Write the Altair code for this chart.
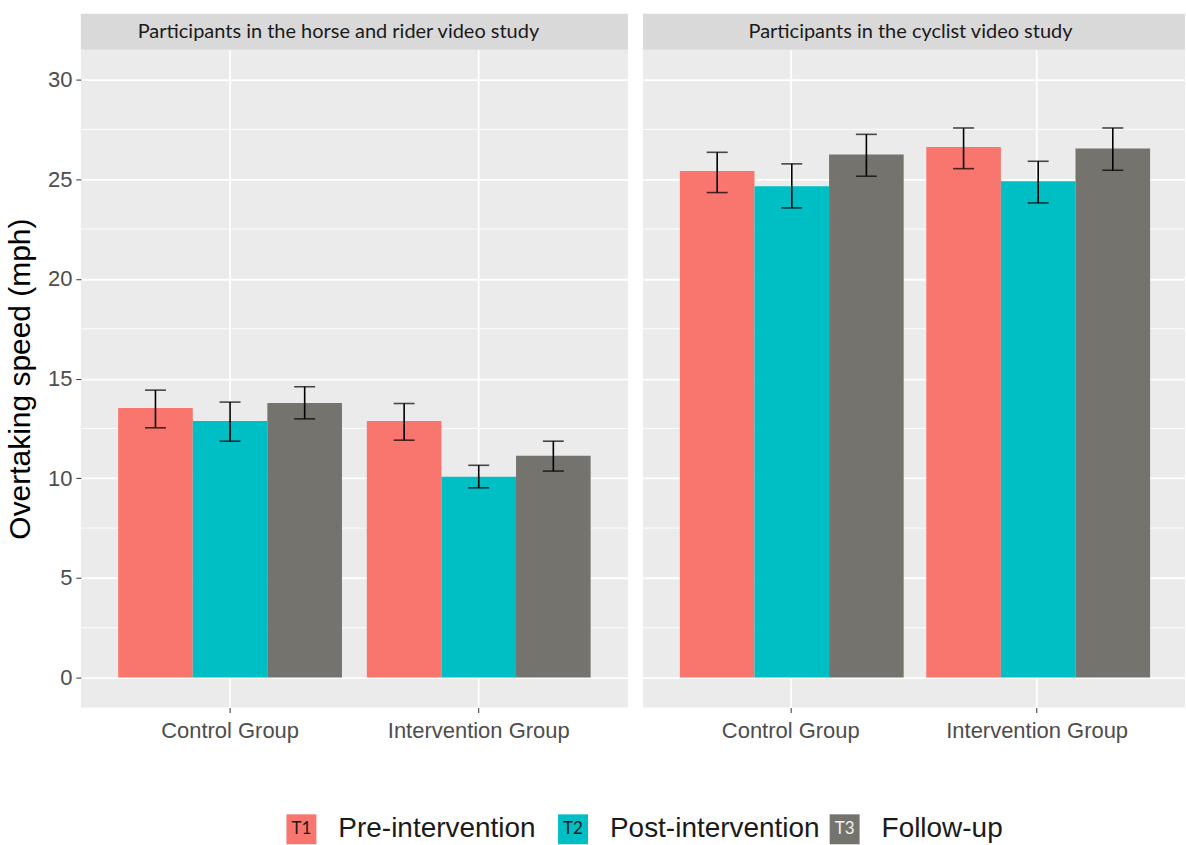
import altair as alt
import pandas as pd

# Facets, groups and measurement occasions
studies = ["Participants in the horse and rider video study",
           "Participants in the cyclist video study"]
groups = ["Control Group", "Intervention Group"]
times = ["T1", "T2", "T3"]
time_labels = ["Pre-intervention", "Post-intervention", "Follow-up"]
time_colors = ["#F8766D", "#00BFC4", "#74736E"]
key_text_colors = ["#1A1A1A", "#1A1A1A", "#F2F2F2"]

# Mean overtaking speed (mph), ordered T1, T2, T3
horse_control = [13.53, 12.87, 13.78]
horse_intervention = [12.87, 10.08, 11.13]
cyclist_control = [25.41, 24.65, 26.24]
cyclist_intervention = [26.62, 24.90, 26.54]

# Lower / upper error-bar bounds, ordered T1, T2, T3
horse_control_lo = [12.53, 11.86, 12.98]
horse_control_hi = [14.42, 13.82, 14.59]
horse_intervention_lo = [11.91, 9.52, 10.36]
horse_intervention_hi = [13.75, 10.65, 11.86]
cyclist_control_lo = [24.33, 23.56, 25.15]
cyclist_control_hi = [26.35, 25.77, 27.25]
cyclist_intervention_lo = [25.53, 23.81, 25.45]
cyclist_intervention_hi = [27.57, 25.90, 27.57]

# Axis breaks
y_major = [0, 5, 10, 15, 20, 25, 30]
y_minor = [2.5, 7.5, 12.5, 17.5, 22.5, 27.5]


def build_rows(study, series):
    rows = []
    for group, (means, lows, highs) in zip(groups, series):
        for t, m, lo, hi in zip(times, means, lows, highs):
            rows.append({"study": study, "group": group, "time": t,
                         "mean": m, "lo": lo, "hi": hi})
    return pd.DataFrame(rows)


horse_df = build_rows(studies[0], [
    (horse_control, horse_control_lo, horse_control_hi),
    (horse_intervention, horse_intervention_lo, horse_intervention_hi)])
cyclist_df = build_rows(studies[1], [
    (cyclist_control, cyclist_control_lo, cyclist_control_hi),
    (cyclist_intervention, cyclist_intervention_lo, cyclist_intervention_hi)])
minor_df = pd.DataFrame({"v": y_minor})

PANEL_H = 659
STRIP_H = 36
BG = "#EBEBEB"
STRIP_BG = "#D9D9D9"
FONT = "Liberation Sans"

color_scale = alt.Scale(domain=times, range=time_colors)
y_scale = alt.Scale(domain=[-1.5, 31.5], nice=False, zero=False)


def panel(df, width, show_y, title_x):
    x_axis = alt.Axis(title=None, labelAngle=0, bandPosition=0.5, grid=True,
                      gridColor="white", gridWidth=1.8, domain=False,
                      tickColor="#333333", tickSize=5, tickWidth=1,
                      labelFontSize=22, labelColor="#4D4D4D", labelFont=FONT,
                      labelPadding=8, labelLimit=0)
    y_axis = alt.Axis(values=y_major, grid=True, gridColor="white", gridWidth=1.8,
                      domain=False, labels=show_y, ticks=show_y,
                      title="Overtaking speed (mph)" if show_y else None,
                      tickColor="#333333", tickSize=5, tickWidth=1,
                      labelFontSize=22, labelColor="#4D4D4D", labelFont=FONT,
                      labelPadding=4, titleFontSize=30, titleFont=FONT,
                      titleColor="black", titleFontWeight="normal",
                      titlePadding=12)
    x = alt.X("group:N", sort=groups, axis=x_axis,
              scale=alt.Scale(domain=groups, paddingInner=0.1, paddingOuter=0.15))
    xo = alt.XOffset("time:N", sort=times,
                     scale=alt.Scale(domain=times, paddingInner=0, paddingOuter=0))

    minor = alt.Chart(minor_df).mark_rule(color="white", strokeWidth=0.9).encode(
        y=alt.Y("v:Q", scale=y_scale, axis=y_axis))
    base = alt.Chart(df)
    bars = base.mark_bar().encode(
        x=x, xOffset=xo,
        y=alt.Y("mean:Q", scale=y_scale, axis=y_axis),
        y2=alt.datum(0),
        color=alt.Color("time:N", scale=color_scale, legend=None))
    whisker = base.mark_rule(color="black", strokeWidth=1.6).encode(
        x=x, xOffset=xo, y=alt.Y("lo:Q", scale=y_scale, axis=y_axis), y2="hi:Q")
    cap_lo = base.mark_tick(color="black", size=21, thickness=1.6).encode(
        x=x, xOffset=xo, y=alt.Y("lo:Q", scale=y_scale, axis=y_axis))
    cap_hi = base.mark_tick(color="black", size=21, thickness=1.6).encode(
        x=x, xOffset=xo, y=alt.Y("hi:Q", scale=y_scale, axis=y_axis))

    plot = alt.layer(minor, bars, whisker, cap_lo, cap_hi).properties(
        width=width, height=PANEL_H,
        view=alt.ViewBackground(fill=BG, stroke=None))

    strip = alt.Chart(pd.DataFrame({"t": [df["study"].iloc[0]]})).mark_text(
        font="Lato", fontSize=20, color="#1A1A1A").encode(
        text="t:N", x=alt.value(title_x), y=alt.value(STRIP_H / 2)).properties(
        width=width, height=STRIP_H,
        view=alt.ViewBackground(fill=STRIP_BG, stroke=None))

    return alt.vconcat(strip, plot, spacing=0, bounds="flush")


left = panel(horse_df, 548, True, 258)
right = panel(cyclist_df, 543, False, 268)
top = alt.hconcat(left, right, spacing=13)

# Legend row: coloured keys labelled T1-T3 followed by their descriptions
legend_df = pd.DataFrame({"time": times, "label": time_labels, "tc": key_text_colors})
lx = alt.X("time:N", sort=times, axis=None,
           scale=alt.Scale(type="band", domain=times, paddingInner=0,
                           paddingOuter=0.529, align=0.295))
keys = alt.Chart(legend_df).mark_square(size=900, opacity=1).encode(
    x=lx, color=alt.Color("time:N", scale=color_scale, legend=None))
key_text = alt.Chart(legend_df).mark_text(font="Lato", fontSize=17).encode(
    x=lx, text="time:N", color=alt.Color("tc:N", scale=None))
key_label = alt.Chart(legend_df).mark_text(
    align="left", dx=37, font=FONT, fontSize=28, color="#1A1A1A").encode(
    x=lx, text="label:N")
legend_row = alt.layer(keys, key_text, key_label).properties(width=1104, height=32)

chart = alt.vconcat(top, legend_row, spacing=72).properties(
    padding={"left": 5, "top": 13, "right": 0, "bottom": 0},
    background="white").configure_view(stroke=None)

chart.save("out.html", embed_options={"renderer": "svg", "actions": False})
